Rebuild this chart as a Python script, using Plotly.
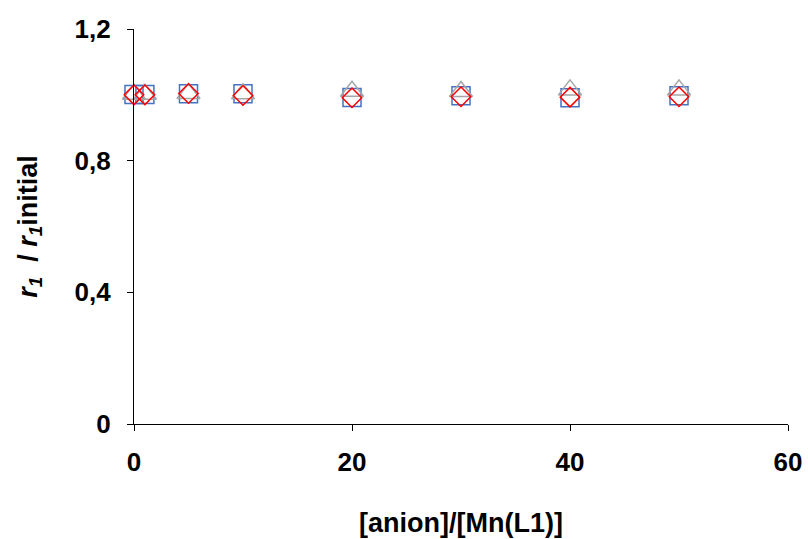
import plotly.graph_objects as go

ratio = [0, 1, 5, 10, 20, 30, 40, 50]
series_square = [1.001, 1.001, 1.003, 1.003, 0.992, 0.997, 0.991, 0.997]
series_triangle = [1.002, 1.002, 1.004, 1.003, 1.011, 1.010, 1.015, 1.015]
series_diamond = [1.0, 1.0, 1.004, 0.998, 0.991, 0.994, 0.993, 0.994]

x_ticks = [0, 20, 40, 60]
y_ticks = [0, 0.4, 0.8, 1.2]
y_tick_text = ["0", "0,4", "0,8", "1,2"]

fig = go.Figure()
fig.add_trace(go.Scatter(x=ratio, y=series_square, mode="markers", cliponaxis=False,
                         marker=dict(symbol="square-open", size=18, color="#4472C4",
                                     line=dict(width=1.5, color="#4472C4"))))
fig.add_trace(go.Scatter(x=ratio, y=series_triangle, mode="markers", cliponaxis=False,
                         marker=dict(symbol="triangle-up-open", size=20, color="#A5A5A5",
                                     line=dict(width=1.5, color="#A5A5A5"))))
fig.add_trace(go.Scatter(x=ratio, y=series_diamond, mode="markers", cliponaxis=False,
                         marker=dict(symbol="diamond-open", size=15, color="#FF0000",
                                     line=dict(width=1.5, color="#FF0000"))))

axis_font = dict(family="Liberation Sans, Arial", size=26, color="black")
title_font = dict(family="Liberation Sans, Arial", size=27, color="black")
fig.update_layout(
    width=808, height=539,
    margin=dict(l=134, r=20, t=29, b=115),
    paper_bgcolor="white", plot_bgcolor="white",
    showlegend=False,
    font=dict(family="Liberation Sans, Arial", color="black"),
    xaxis=dict(range=[0, 60], tickvals=x_ticks, ticktext=[f"<b>{v}</b>" for v in x_ticks],
               tickfont=axis_font, showgrid=False, zeroline=False,
               showline=True, linecolor="black", linewidth=1.2,
               ticks="outside", ticklen=6, tickcolor="black", ticklabelstandoff=9,
               automargin=False,
               title=dict(text="<b>[anion]/[Mn(L1)]</b>", font=title_font, standoff=36)),
    yaxis=dict(range=[0, 1.2], tickvals=y_ticks, ticktext=[f"<b>{t}</b>" for t in y_tick_text],
               tickfont=axis_font, showgrid=False, zeroline=False,
               showline=True, linecolor="black", linewidth=1.2,
               ticks="outside", ticklen=6, tickcolor="black", ticklabelstandoff=11,
               automargin=False,
               title=dict(text="<b><i>r</i><sub><i>1</i></sub>  / <i>r</i><sub><i>1</i></sub>initial</b>",
                          font=title_font, standoff=29)),
)
fig.write_html("out.html", config={"displayModeBar": False},
               post_script="document.body.style.margin='0';document.body.style.overflow='hidden';")
